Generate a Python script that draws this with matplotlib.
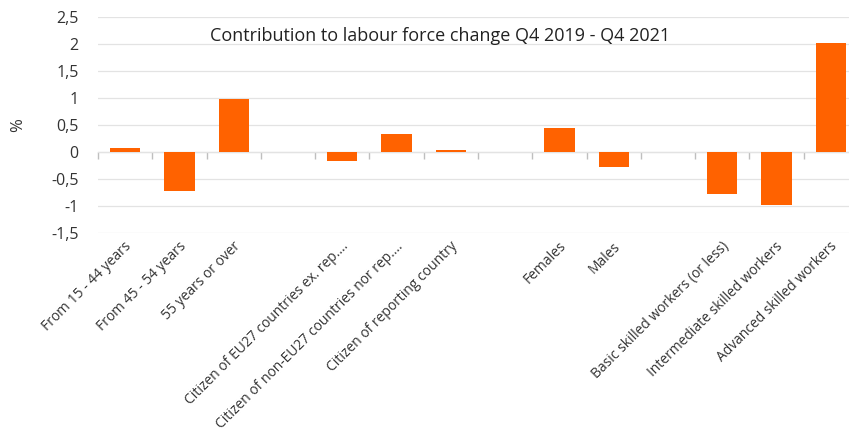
import matplotlib
matplotlib.use("Agg")
import matplotlib.pyplot as plt
import numpy as np
from matplotlib.ticker import FuncFormatter

categories = ["From 15 - 44 years", "From 45 - 54 years", "55 years or over", "",
              "Citizen of EU27 countries ex. rep....", "Citizen of non-EU27 countries nor rep....",
              "Citizen of reporting country", "", "Females", "Males", "",
              "Basic skilled workers (or less)", "Intermediate skilled workers",
              "Advanced skilled workers"]
values = [0.07, -0.73, 0.975, 0.0, -0.17, 0.33, 0.03, 0.0, 0.44, -0.28, 0.0, -0.78, -0.99, 2.01]
yticks = [-1.5, -1, -0.5, 0, 0.5, 1, 1.5, 2, 2.5]
title = "Contribution to labour force change Q4 2019 - Q4 2021"

plt.rcParams['font.family'] = ['Open Sans', 'DejaVu Sans']
W, H = 849, 432
fig = plt.figure(figsize=(W/100, H/100), dpi=100)
left, right, top, bottom = 98, 858, 17, 233
ax = fig.add_axes([left/W, 1-bottom/H, (right-left)/W, (bottom-top)/H])

x = np.arange(len(categories))
ax.bar(x, values, width=0.56, color="#FF6200", zorder=3)
ax.set_xlim(-0.5, len(categories)-0.5)
ax.set_ylim(-1.5, 2.5)
ax.set_yticks(yticks)
ax.yaxis.set_major_formatter(FuncFormatter(lambda v, p: ("%g" % v).replace(".", ",")))
ax.grid(axis="y", color="#e3e3e3", linewidth=0.9, zorder=0)
for s in ax.spines.values():
    s.set_visible(False)
ax.tick_params(axis="y", length=0, labelsize=11.5, colors="#333333", pad=14)
ax.set_xticks(x + 0.08)
ax.set_xticklabels(categories, rotation=45, ha="right", va="center", rotation_mode="anchor",
                   fontsize=10, color="#333333")
ax.tick_params(axis="x", length=0, pad=8)

sec = ax.secondary_xaxis(1.5/4)
sec.set_xticks(np.arange(len(categories)+1) - 0.5)
sec.set_xticklabels([])
sec.tick_params(axis="x", direction="out", length=5, color="#bfbfbf", width=1)
sec.spines["bottom"].set_color("#bfbfbf")
for k in ["top", "left", "right"]:
    sec.spines[k].set_visible(False)

fig.text(440/W, 1-36/H, title, ha="center", va="center", fontsize=13, color="#222222")
fig.text(18/W, 1-125/H, "%", rotation=90, ha="center", va="center", fontsize=12, color="#333333")

fig.savefig("out.png", dpi=100, facecolor="white")
